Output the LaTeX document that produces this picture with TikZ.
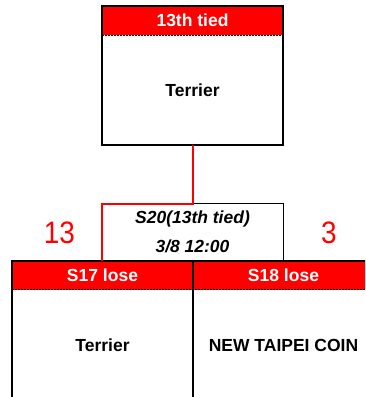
\documentclass[tikz,border=0pt]{standalone}
\usepackage{fontspec}
\setmainfont{Liberation Sans}
\begin{document}
\begin{tikzpicture}[x=1pt,y=-1pt,
  hdr/.style={fill=red,text=white,font=\fontsize{17.5}{20}\selectfont\bfseries,minimum width=181pt,minimum height=29pt,inner sep=0pt,outer sep=0pt},
  bodybox/.style={font=\fontsize{17.5}{20}\selectfont\bfseries,minimum width=181pt,minimum height=110pt,inner sep=0pt,outer sep=0pt},
  border/.style={black,line width=2pt},
  score/.style={text=red,font=\fontsize{31}{33}\selectfont,inner sep=0pt},
  conn/.style={red,line width=2pt}]
\useasboundingbox (0,0) rectangle (365,397);
\clip (0,0) rectangle (365,397);
% top box
\node[hdr] (tophdr) at (192.5,20.5) {13th tied};
\node[bodybox] (topbody) at (192.5,90) {Terrier};
\draw[black,dashed,dash pattern=on 2pt off 1pt,line width=0.5pt] (tophdr.south west) -- (tophdr.south east);
\draw[border] (tophdr.north west) -- (tophdr.north east) -- (topbody.south east) -- (topbody.south west) -- cycle;
% match box
\node[minimum width=181pt,minimum height=57pt,inner sep=0pt,outer sep=0pt,align=center,
  font=\fontsize{17.5}{29}\selectfont\bfseries\itshape] (s20) at (192.5,232) {S20(13th tied)\\3/8 12:00};
\draw[black,line width=1pt] (s20.north) -- (s20.north east) -- (s20.south east);
% bottom boxes
\node[hdr] (s17hdr) at (102.5,275) {S17 lose};
\node[hdr] (s18hdr) at (283.5,275) {S18 lose};
\node[bodybox] (s17body) at (102.5,345) {Terrier};
\node[bodybox] (s18body) at (283.5,345) {NEW TAIPEI COIN};
\draw[black,dashed,dash pattern=on 2pt off 1pt,line width=0.5pt] (s17hdr.south west) -- (s18hdr.south east);
\draw[border] (s17body.south west) -- (s17hdr.north west) -- (s18hdr.north east);
\draw[border] (s17hdr.north east) -- (s17body.south east);
% connector
\draw[conn] (topbody.south) -- (s20.north) -- (s20.north west) -- (s17hdr.north -| s20.west);
% scores
\node[score] (sc13) at (59.5,233) {\scalebox{0.9}[1]{13}};
\node[score] (sc3) at (329,233) {\scalebox{0.9}[1]{3}};
\end{tikzpicture}
\end{document}
